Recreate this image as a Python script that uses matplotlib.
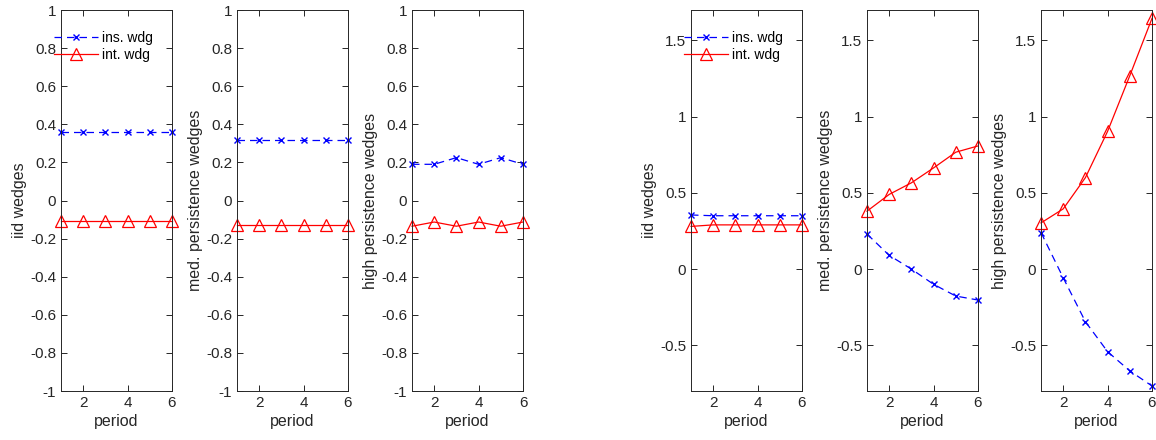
import numpy as np
import matplotlib.pyplot as plt

plt.rcParams['font.family'] = ['Liberation Sans', 'DejaVu Sans']

period = [1, 2, 3, 4, 5, 6]

# left group
ins_iid_a = [0.36, 0.36, 0.36, 0.36, 0.36, 0.36]
int_iid_a = [-0.11, -0.11, -0.11, -0.11, -0.11, -0.11]
ins_med_a = [0.32, 0.32, 0.32, 0.32, 0.32, 0.32]
int_med_a = [-0.13, -0.13, -0.13, -0.13, -0.13, -0.13]
ins_high_a = [0.19, 0.19, 0.225, 0.19, 0.225, 0.19]
int_high_a = [-0.135, -0.113, -0.135, -0.113, -0.135, -0.113]

# right group
ins_iid_b = [0.355, 0.35, 0.35, 0.35, 0.35, 0.35]
int_iid_b = [0.28, 0.29, 0.29, 0.29, 0.29, 0.29]
ins_med_b = [0.23, 0.09, 0.0, -0.10, -0.177, -0.203]
int_med_b = [0.38, 0.49, 0.566, 0.664, 0.767, 0.808]
ins_high_b = [0.24, -0.057, -0.345, -0.542, -0.668, -0.767]
int_high_b = [0.303, 0.395, 0.60, 0.904, 1.269, 1.645]

ylabels = ['iid wedges', 'med. persistence wedges', 'high persistence wedges']

fig = plt.figure(figsize=(11.56, 4.4), dpi=100)
W, H = 1156, 440
lefts = [61, 237, 412, 691, 867, 1041]
width = 111
top, bottom = 10, 391

series = [(ins_iid_a, int_iid_a), (ins_med_a, int_med_a), (ins_high_a, int_high_a),
          (ins_iid_b, int_iid_b), (ins_med_b, int_med_b), (ins_high_b, int_high_b)]

edge = '#262626'
for i, (ins, intw) in enumerate(series):
    ax = fig.add_axes([lefts[i] / W, 1 - bottom / H, width / W, (bottom - top) / H])
    ax.plot(period, ins, color='blue', ls=(0, (6, 4)), lw=0.9, marker='x',
            ms=5, mew=1.0, label='ins. wdg', clip_on=False)
    ax.plot(period, intw, color='red', ls='-', lw=0.9, marker='^',
            ms=8, mfc='none', mew=0.9, label='int. wdg', clip_on=False)
    ax.set_xlim(1, 6)
    ax.set_xticks([2, 4, 6])
    if i < 3:
        ax.set_ylim(-1, 1)
        ax.set_yticks(np.arange(-1, 1.01, 0.2))
        ax.set_yticklabels(['-1', '-0.8', '-0.6', '-0.4', '-0.2', '0',
                            '0.2', '0.4', '0.6', '0.8', '1'])
    else:
        ax.set_ylim(-0.8, 1.7)
        ax.set_yticks([-0.5, 0, 0.5, 1, 1.5])
        ax.set_yticklabels(['-0.5', '0', '0.5', '1', '1.5'])
    ax.tick_params(direction='in', top=True, right=True, length=4,
                   labelsize=11, colors=edge, width=0.7)
    for s in ax.spines.values():
        s.set_color(edge)
        s.set_linewidth(0.7)
    ax.set_xlabel('period', fontsize=11.5, color=edge, labelpad=3)
    ax.set_ylabel(ylabels[i % 3], fontsize=11.5, color=edge, labelpad=2)
    if i % 3 == 0:
        ax.legend(loc='upper left', bbox_to_anchor=(-0.115, 0.96), frameon=False,
                  fontsize=10, handlelength=3.2, handletextpad=0.3,
                  labelspacing=0.25, borderaxespad=0.0)

fig.savefig('out.png', dpi=100)
